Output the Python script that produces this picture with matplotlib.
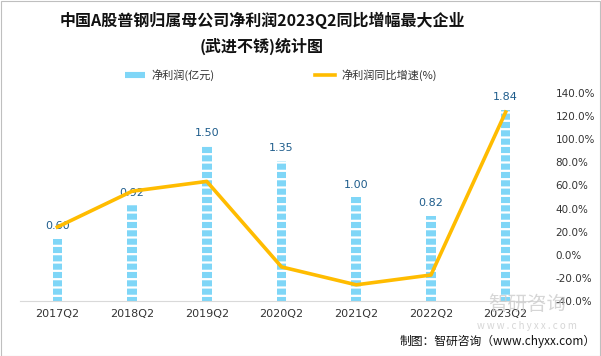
import matplotlib
matplotlib.use("Agg")
import matplotlib.pyplot as plt
from matplotlib.patches import Rectangle
from matplotlib.lines import Line2D
from matplotlib.ticker import FuncFormatter

plt.rcParams["font.family"] = ["Noto Sans CJK SC", "DejaVu Sans"]
plt.rcParams["hatch.linewidth"] = 1.6

quarters = ["2017Q2", "2018Q2", "2019Q2", "2020Q2", "2021Q2", "2022Q2", "2023Q2"]
profit = [0.60, 0.92, 1.50, 1.35, 1.00, 0.82, 1.84]
growth = [24.0, 55.0, 63.5, -10.5, -26.0, -17.5, 123.5]

BAR_COLOR = "#7fd6f7"
LINE_COLOR = "#ffbc00"
LABEL_COLOR = "#1f5d8c"

fig = plt.figure(figsize=(6.01, 3.56), dpi=100)
ax = fig.add_axes([20 / 601, 55 / 356, 523 / 601, 208 / 356])
ax2 = ax.twinx()

x = list(range(len(quarters)))
ax.bar(x, profit, width=0.13, color=BAR_COLOR, edgecolor="white", linewidth=0,
       hatch="--", zorder=2)
for xi, v in zip(x, profit):
    ax.text(xi, v + 0.07, f"{v:.2f}", ha="center", va="bottom", fontsize=8,
            color=LABEL_COLOR, family=["DejaVu Sans"])
ax.set_ylim(0, 2.0)
ax.set_xlim(-0.5, len(quarters) - 0.5)
ax.set_xticks(x)
ax.set_xticklabels(quarters, fontsize=8, color="#333333", family=["DejaVu Sans"])
ax.tick_params(axis="x", length=0, pad=6)
ax.set_yticks([])
for s in ["top", "left", "right"]:
    ax.spines[s].set_visible(False)
ax.spines["bottom"].set_color("#d9d9d9")

ax2.plot(x, growth, color=LINE_COLOR, linewidth=2.6, zorder=3)
ax2.set_ylim(-40, 140)
ax2.set_yticks(range(-40, 141, 20))
ax2.yaxis.set_major_formatter(FuncFormatter(lambda v, p: f"{v:.1f}%"))
ax2.tick_params(axis="y", length=0, labelsize=7.5, labelcolor="#333333", pad=9)
for t in ax2.get_yticklabels():
    t.set_family(["DejaVu Sans"])
for s in ["top", "left", "right", "bottom"]:
    ax2.spines[s].set_visible(False)

fig.text(262 / 601, 1 - 20 / 356, "中国A股普钢归属母公司净利润2023Q2同比增幅最大企业",
         ha="center", va="center", fontsize=11.5, fontweight="bold", color="#111111")
fig.text(262 / 601, 1 - 46 / 356, "(武进不锈)统计图",
         ha="center", va="center", fontsize=11.5, fontweight="bold", color="#111111")

h1 = Rectangle((0, 0), 1, 1, facecolor=BAR_COLOR, edgecolor="white", linewidth=0, hatch="--")
h2 = Line2D([0], [0], color=LINE_COLOR, linewidth=2.6)
fig.legend([h1, h2], ["净利润(亿元)", "净利润同比增速(%)"], loc="center",
           bbox_to_anchor=(281 / 601, 1 - 75 / 356), ncol=2, frameon=False,
           fontsize=8, handlelength=1.8, handletextpad=0.6, columnspacing=9,
           labelcolor="#333333")

# watermark
fig.text(527 / 601, 1 - 304 / 356, "智研咨询", ha="center", va="center",
         fontsize=14, color="#cccccc", alpha=0.8)
fig.text(527 / 601, 1 - 326 / 356, "w w w . c h y x x . c o m", ha="center", va="center",
         fontsize=7, color="#cccccc", alpha=0.8)
fig.text(596 / 601, 1 - 341 / 356, "制图：智研咨询（www.chyxx.com）", ha="right",
         va="center", fontsize=8.5, color="#111111")

fig.patches.append(Rectangle((0.5 / 601, 0.5 / 356), 1 - 1.5 / 601, 1 - 1.5 / 356,
                             transform=fig.transFigure, fill=False,
                             edgecolor="#bfbfbf", linewidth=0.8))

fig.savefig("out.png", dpi=100, facecolor="white")
